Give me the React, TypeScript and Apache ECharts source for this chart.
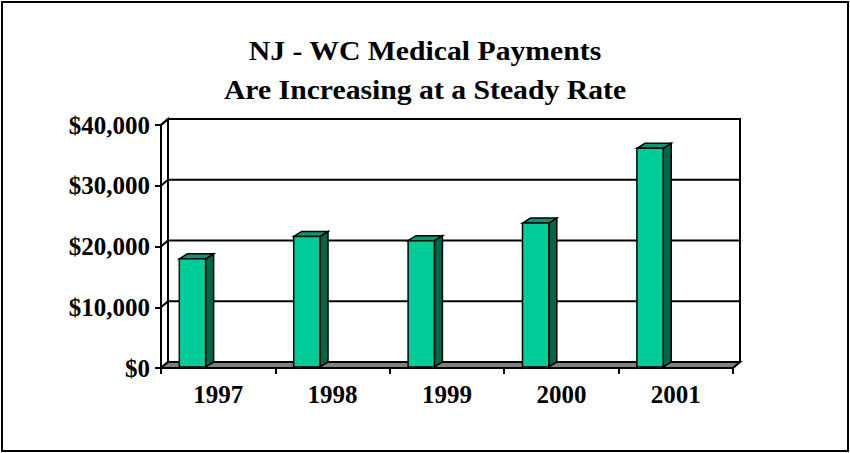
import { useEffect, useRef } from "react";
import * as echarts from "echarts";

const YEARS = ["1997", "1998", "1999", "2000", "2001"];
const PAYMENTS = [17800, 21500, 20800, 23700, 36000];
const Y_TICKS = [0, 10000, 20000, 30000, 40000];
const Y_LABELS = ["$0", "$10,000", "$20,000", "$30,000", "$40,000"];
const TITLE_LINES = ["NJ - WC Medical Payments", "Are Increasing at a Steady Rate"];

const FONT = '"Liberation Serif", "Times New Roman", serif';
const FRONT = "#00CC99";
const TOP = "#009973";
const SIDE = "#006648";
const FLOOR = "#808080";
/** 墙体纵深：背墙相对前轴的偏移 */
const DEPTH = [7, -6];
const BAR_DEPTH = [8, -5];

export default function App() {
  const ref = useRef<HTMLDivElement>(null);

  useEffect(() => {
    if (!ref.current) return;
    document.body.style.margin = "0";
    const chart = echarts.init(ref.current, undefined, { renderer: "svg" });

    const frame = (params: any, api: any) => {
      const cs = params.coordSys;
      const [dx, dy] = DEPTH;
      const x0 = cs.x;
      const x1 = cs.x + cs.width;
      const yb = api.coord([0, 0])[1];
      const yt = api.coord([0, Y_TICKS[Y_TICKS.length - 1]])[1];
      const line = { stroke: "#000", lineWidth: 2, fill: "none" };
      const children: any[] = [
        {
          type: "rect",
          shape: { x: x0 + dx, y: yt + dy, width: cs.width, height: yb - yt },
          style: { fill: "#fff", stroke: "#000", lineWidth: 2 },
        },
        {
          type: "polygon",
          shape: { points: [[x0, yt], [x0 + dx, yt + dy], [x0 + dx, yb + dy], [x0, yb]] },
          style: { fill: "#fff", stroke: "#000", lineWidth: 2 },
        },
      ];
      Y_TICKS.slice(1).forEach((v) => {
        const y = api.coord([0, v])[1];
        children.push({
          type: "polyline",
          shape: { points: [[x0, y], [x0 + dx, y + dy], [x1 + dx, y + dy]] },
          style: line,
        });
      });
      children.push({
        type: "polygon",
        shape: { points: [[x0, yb], [x0 + dx, yb + dy], [x1 + dx, yb + dy], [x1, yb]] },
        style: { fill: FLOOR, stroke: "#000", lineWidth: 2 },
      });
      return { type: "group", children };
    };

    const bar = (_params: any, api: any) => {
      const [cx, yTop0] = api.coord([api.value(0), api.value(1)]);
      const yBase0 = api.coord([api.value(0), 0])[1];
      const bw = api.size([1, 0])[0];
      const w = bw * 0.23;
      const left = cx - bw * 0.5 + bw * 0.16;
      const yTop = yTop0 - 1;
      const yBase = yBase0 - 1;
      const [bx, by] = BAR_DEPTH;
      const edge = { stroke: "#000", lineWidth: 1.5 };
      return {
        type: "group",
        children: [
          {
            type: "polygon",
            shape: { points: [[left + w, yTop], [left + w + bx, yTop + by], [left + w + bx, yBase + by], [left + w, yBase]] },
            style: { fill: SIDE, ...edge },
          },
          {
            type: "polygon",
            shape: { points: [[left, yTop], [left + bx, yTop + by], [left + w + bx, yTop + by], [left + w, yTop]] },
            style: { fill: TOP, ...edge },
          },
          {
            type: "rect",
            shape: { x: left, y: yTop, width: w, height: yBase - yTop },
            style: { fill: FRONT, ...edge },
          },
        ],
      };
    };

    chart.setOption({
      animation: false,
      textStyle: { fontFamily: FONT },
      graphic: [
        {
          type: "rect",
          shape: { x: 2, y: 2, width: 846, height: 449 },
          style: { fill: "none", stroke: "#000", lineWidth: 2 },
          z: 10,
        },
        ...TITLE_LINES.map((t, i) => ({
          type: "text",
          x: 425,
          y: 37 + i * 39,
          scaleX: 1.1,
          style: {
            text: t,
            fill: "#000",
            font: `bold 27px ${FONT}`,
            textAlign: "center",
            textVerticalAlign: "top",
          },
        })),
      ],
      grid: { left: 161, top: 125, width: 572, height: 243 },
      xAxis: {
        type: "category",
        data: YEARS,
        axisLine: { lineStyle: { color: "#000", width: 2 } },
        axisTick: { show: true, length: 6, lineStyle: { color: "#000", width: 2 } },
        axisLabel: { color: "#000", fontSize: 25, fontWeight: "bold", fontFamily: FONT, margin: 14 },
        splitLine: { show: false },
      },
      yAxis: {
        type: "value",
        min: 0,
        max: 40000,
        interval: 10000,
        axisLine: { show: true, lineStyle: { color: "#000", width: 2 } },
        axisTick: { show: true, length: 6, lineStyle: { color: "#000", width: 2 } },
        axisLabel: {
          color: "#000",
          fontSize: 25,
          fontWeight: "bold",
          fontFamily: FONT,
          margin: 11,
          formatter: (v: number) => Y_LABELS[Y_TICKS.indexOf(v)] ?? "",
        },
        splitLine: { show: false },
      },
      series: [
        { type: "custom", renderItem: frame, data: [[0, 0]], silent: true, z: 1 },
        {
          type: "custom",
          renderItem: bar,
          data: PAYMENTS.map((v, i) => [i, v]),
          encode: { x: 0, y: 1 },
          z: 3,
        },
      ],
    });

    return () => {
      chart.dispose();
    };
  }, []);

  return <div ref={ref} style={{ width: 850, height: 453, position: "absolute", left: 0, top: 0 }} />;
}
